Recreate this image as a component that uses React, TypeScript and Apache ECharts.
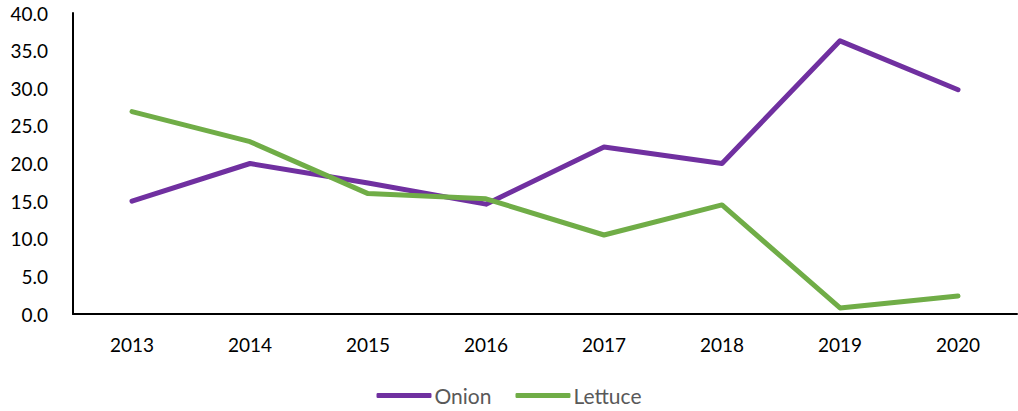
import React, { useEffect, useRef } from "react";
import * as echarts from "echarts";

const years = ["2013", "2014", "2015", "2016", "2017", "2018", "2019", "2020"];
const onion = [15.0, 20.0, 17.4, 14.6, 22.2, 20.0, 36.3, 29.8];
const lettuce = [26.9, 22.9, 16.0, 15.3, 10.5, 14.5, 0.8, 2.4];

const FONT = "Lato, 'Noto Sans', sans-serif";

export default function App() {
  const ref = useRef<HTMLDivElement>(null);
  useEffect(() => {
    document.body.style.margin = "0";
    const chart = echarts.init(ref.current!, null, { renderer: "svg" });
    chart.setOption({
      animation: false,
      textStyle: { fontFamily: FONT },
      grid: { left: 73, top: 13, right: 1, bottom: 97, containLabel: false },
      legend: {
        bottom: 0,
        left: "center",
        icon: "roundRect",
        itemWidth: 55,
        itemHeight: 5,
        itemGap: 24,
        textStyle: { fontFamily: FONT, fontSize: 21, color: "#595959", padding: [0, 0, 0, -2] },
        data: ["Onion", "Lettuce"],
      },
      xAxis: {
        type: "category",
        data: years,
        boundaryGap: true,
        axisLine: { lineStyle: { color: "#000", width: 2 } },
        axisTick: { show: false },
        axisLabel: { color: "#000", fontSize: 19, margin: 21, fontFamily: FONT },
        splitLine: { show: false },
      },
      yAxis: {
        type: "value",
        min: 0,
        max: 40,
        interval: 5,
        axisLine: { show: true, lineStyle: { color: "#000", width: 2 } },
        axisTick: { show: false },
        splitLine: { show: false },
        axisLabel: {
          color: "#000",
          fontSize: 19,
          margin: 25,
          fontFamily: FONT,
          formatter: (v: number) => v.toFixed(1),
        },
      },
      series: [
        {
          name: "Onion",
          type: "line",
          data: onion,
          symbol: "none",
          lineStyle: { color: "#7030A0", width: 5, cap: "round", join: "round" },
          itemStyle: { color: "#7030A0" },
        },
        {
          name: "Lettuce",
          type: "line",
          data: lettuce,
          symbol: "none",
          lineStyle: { color: "#70AD47", width: 5, cap: "round", join: "round" },
          itemStyle: { color: "#70AD47" },
        },
      ],
    });
    return () => chart.dispose();
  }, []);
  return <div ref={ref} style={{ width: 1018, height: 411 }} />;
}
